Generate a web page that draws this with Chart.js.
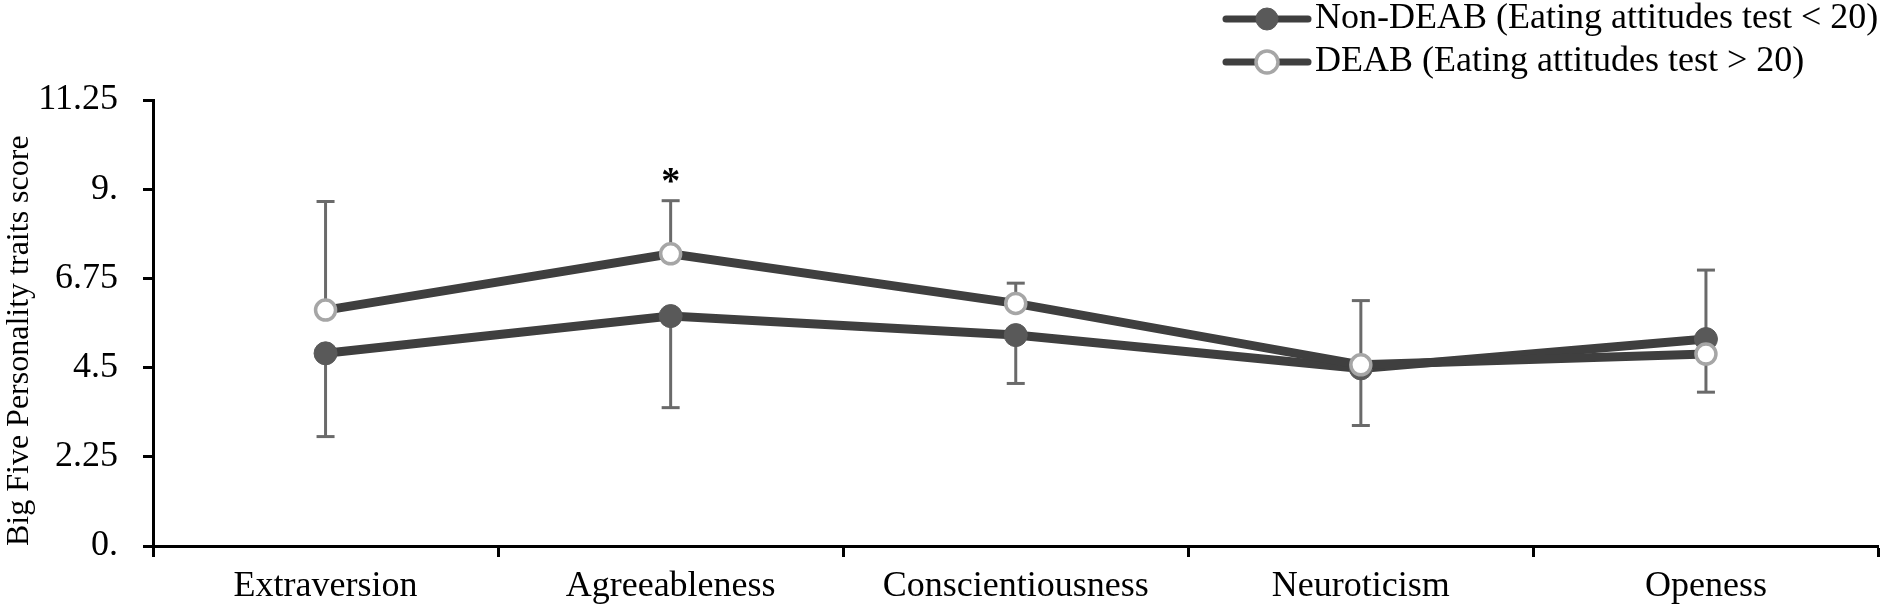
<!DOCTYPE html>
<html>
<head>
<meta charset="utf-8">
<script src="https://cdn.jsdelivr.net/npm/chart.js@4/dist/chart.umd.min.js"></script>
<style>
html,body{margin:0;padding:0;background:#fff;}
#wrap{position:relative;width:1892px;height:612px;}
</style>
</head>
<body>
<div id="wrap"><canvas id="c" width="1892" height="612"></canvas></div>
<script>
const categories = ['Extraversion', 'Agreeableness', 'Conscientiousness', 'Neuroticism', 'Openess'];
const nonDeabValues = [4.86, 5.80, 5.32, 4.48, 5.22];
const deabValues = [5.95, 7.37, 6.12, 4.57, 4.84];
const deabErrorPlus = [2.74, 1.34, 0.51, 1.62, 2.12];
const nonDeabErrorMinus = [2.10, 2.31, 1.22, 1.44, 1.34];
const significance = ['', '*', '', '', ''];
const yTickLabels = ['0.', '2.25', '4.5', '6.75', '9.', '11.25'];
const seriesNames = ['Non-DEAB (Eating attitudes test < 20)', 'DEAB (Eating attitudes test > 20)'];
const yTitle = 'Big Five Personality traits score';

const FONT = "'Liberation Serif', 'Times New Roman', serif";
Chart.defaults.font.family = FONT;
Chart.defaults.color = '#000';

const LINE_COLOR = '#3f3f3f';
const ERR_COLOR = '#6a6a6a';

const errorBars = {
  id: 'errorBars',
  beforeDatasetsDraw(chart) {
    const ctx = chart.ctx, xs = chart.scales.x, ys = chart.scales.y;
    ctx.save();
    ctx.strokeStyle = ERR_COLOR;
    ctx.lineWidth = 3;
    const cap = 9;
    const seg = (x, v0, v1) => {
      const y0 = ys.getPixelForValue(v0), y1 = ys.getPixelForValue(v1);
      ctx.beginPath(); ctx.moveTo(x, y0); ctx.lineTo(x, y1); ctx.stroke();
      ctx.beginPath(); ctx.moveTo(x - cap, y1); ctx.lineTo(x + cap, y1); ctx.stroke();
    };
    categories.forEach((c, i) => {
      const x = xs.getPixelForValue(i);
      seg(x, deabValues[i], deabValues[i] + deabErrorPlus[i]);
      seg(x, nonDeabValues[i], nonDeabValues[i] - nonDeabErrorMinus[i]);
    });
    ctx.restore();
  },
  afterDatasetsDraw(chart) {
    const ctx = chart.ctx, xs = chart.scales.x, ys = chart.scales.y;
    ctx.save();
    ctx.fillStyle = '#000';
    ctx.font = 'bold 38px ' + FONT;
    ctx.textAlign = 'center';
    ctx.textBaseline = 'alphabetic';
    significance.forEach((s, i) => {
      if (!s) return;
      const x = xs.getPixelForValue(i);
      const y = ys.getPixelForValue(deabValues[i] + deabErrorPlus[i]) - 8;
      ctx.fillText(s, x, y);
    });
    ctx.restore();
  }
};

const customLegend = {
  id: 'customLegend',
  afterDraw(chart) {
    const ctx = chart.ctx;
    const rows = [
      {ds: chart.data.datasets[0], y: 19},
      {ds: chart.data.datasets[1], y: 62}
    ];
    ctx.save();
    rows.forEach(r => {
      ctx.strokeStyle = r.ds.borderColor;
      ctx.lineWidth = 7;
      ctx.lineCap = 'round';
      ctx.beginPath(); ctx.moveTo(1226, r.y); ctx.lineTo(1308, r.y); ctx.stroke();
      ctx.beginPath();
      ctx.arc(1267, r.y, 11, 0, Math.PI * 2);
      ctx.fillStyle = r.ds.pointBackgroundColor;
      ctx.fill();
      ctx.lineWidth = r.ds.pointBorderWidth;
      ctx.strokeStyle = r.ds.pointBorderColor;
      ctx.stroke();
      ctx.fillStyle = '#000';
      ctx.font = '36px ' + FONT;
      ctx.textAlign = 'left';
      ctx.textBaseline = 'middle';
      ctx.fillText(r.ds.label, 1315, r.y);
    });
    ctx.restore();
  }
};

new Chart(document.getElementById('c'), {
  type: 'line',
  data: {
    labels: categories,
    datasets: [
      {
        label: seriesNames[0],
        data: nonDeabValues,
        borderColor: LINE_COLOR,
        borderWidth: 9,
        pointRadius: 11.5,
        pointHoverRadius: 11.5,
        pointBackgroundColor: '#595959',
        pointBorderColor: '#595959',
        pointBorderWidth: 1,
        tension: 0,
        order: 1
      },
      {
        label: seriesNames[1],
        data: deabValues,
        borderColor: LINE_COLOR,
        borderWidth: 9,
        pointRadius: 10,
        pointHoverRadius: 10,
        pointBackgroundColor: '#ffffff',
        pointBorderColor: '#a6a6a6',
        pointBorderWidth: 3.5,
        tension: 0,
        order: 0
      }
    ]
  },
  options: {
    responsive: false,
    animation: false,
    devicePixelRatio: 1,
    layout: { padding: { top: 100, right: 5, bottom: 0, left: 0 } },
    plugins: { legend: { display: false }, tooltip: { enabled: false } },
    scales: {
      x: {
        offset: true,
        grid: { offset: true, drawOnChartArea: false, drawTicks: true, tickLength: 11, tickWidth: 3, tickColor: '#000' },
        border: { display: true, color: '#000', width: 3 },
        ticks: { font: { size: 36 }, color: '#000', padding: 8, maxRotation: 0, autoSkip: false },
        afterFit(scale) { scale.height = 66; }
      },
      y: {
        min: 0,
        max: 11.25,
        grid: { drawOnChartArea: false, drawTicks: true, tickLength: 10, tickWidth: 3, tickColor: '#000' },
        border: { display: true, color: '#000', width: 3 },
        ticks: {
          stepSize: 2.25,
          font: { size: 36 },
          color: '#000',
          padding: 25,
          callback: (v, i) => yTickLabels[i]
        },
        title: { display: true, text: yTitle, font: { size: 32 }, color: '#000', align: 'start', padding: 0 },
        afterFit(scale) { scale.width = 153; }
      }
    }
  },
  plugins: [errorBars, customLegend]
});
</script>
</body>
</html>
